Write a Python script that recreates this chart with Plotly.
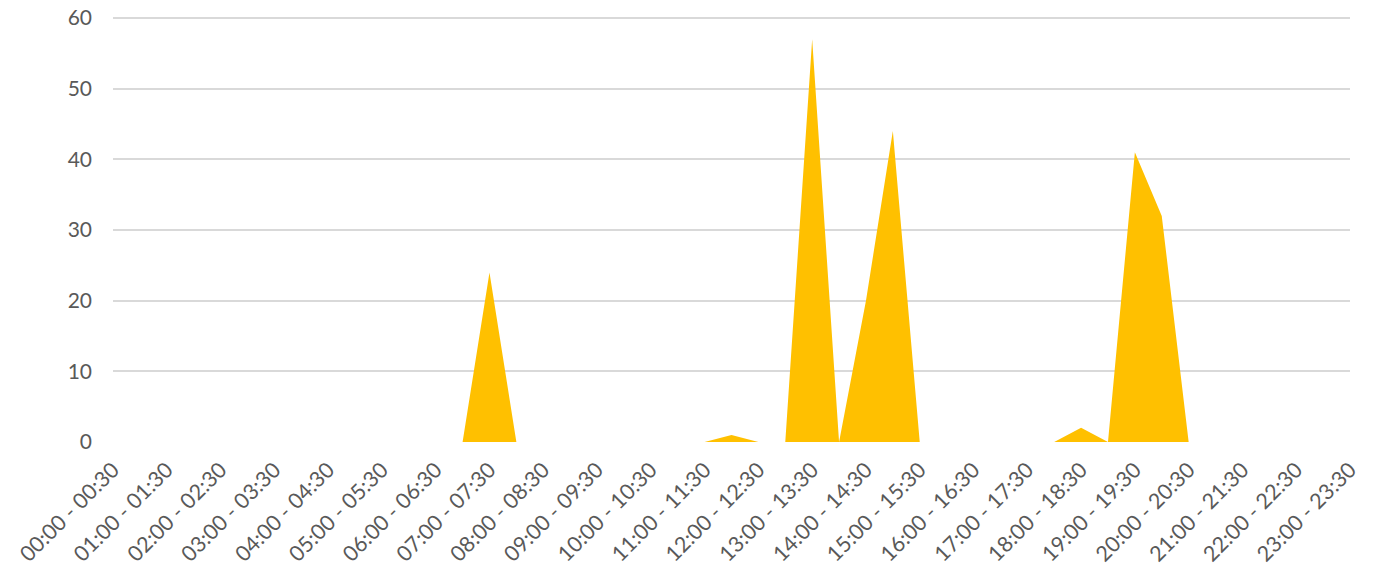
import plotly.graph_objects as go

categories = [
    "00:00 - 00:30", "00:30 - 01:00", "01:00 - 01:30", "01:30 - 02:00",
    "02:00 - 02:30", "02:30 - 03:00", "03:00 - 03:30", "03:30 - 04:00",
    "04:00 - 04:30", "04:30 - 05:00", "05:00 - 05:30", "05:30 - 06:00",
    "06:00 - 06:30", "06:30 - 07:00", "07:00 - 07:30", "07:30 - 08:00",
    "08:00 - 08:30", "08:30 - 09:00", "09:00 - 09:30", "09:30 - 10:00",
    "10:00 - 10:30", "10:30 - 11:00", "11:00 - 11:30", "11:30 - 12:00",
    "12:00 - 12:30", "12:30 - 13:00", "13:00 - 13:30", "13:30 - 14:00",
    "14:00 - 14:30", "14:30 - 15:00", "15:00 - 15:30", "15:30 - 16:00",
    "16:00 - 16:30", "16:30 - 17:00", "17:00 - 17:30", "17:30 - 18:00",
    "18:00 - 18:30", "18:30 - 19:00", "19:00 - 19:30", "19:30 - 20:00",
    "20:00 - 20:30", "20:30 - 21:00", "21:00 - 21:30", "21:30 - 22:00",
    "22:00 - 22:30", "22:30 - 23:00", "23:00 - 23:30",
]

values = [
    0, 0, 0, 0, 0, 0, 0, 0, 0, 0, 0, 0, 0, 0, 24, 0,
    0, 0, 0, 0, 0, 0, 0, 1, 0, 0, 57, 0, 20, 44, 0, 0,
    0, 0, 0, 0, 2, 0, 41, 32, 0, 0, 0, 0, 0, 0, 0,
]

tick_labels = [
    "00:00 - 00:30", "01:00 - 01:30", "02:00 - 02:30", "03:00 - 03:30",
    "04:00 - 04:30", "05:00 - 05:30", "06:00 - 06:30", "07:00 - 07:30",
    "08:00 - 08:30", "09:00 - 09:30", "10:00 - 10:30", "11:00 - 11:30",
    "12:00 - 12:30", "13:00 - 13:30", "14:00 - 14:30", "15:00 - 15:30",
    "16:00 - 16:30", "17:00 - 17:30", "18:00 - 18:30", "19:00 - 19:30",
    "20:00 - 20:30", "21:00 - 21:30", "22:00 - 22:30", "23:00 - 23:30",
]

y_ticks = [0, 10, 20, 30, 40, 50, 60]

fig = go.Figure()
fig.add_trace(go.Scatter(
    x=categories,
    y=values,
    mode="lines",
    line=dict(width=0, color="#FFC000"),
    fill="tozeroy",
    fillcolor="#FFC000",
    showlegend=False,
))

# page body has an 8px default margin, so the figure is sized to fit the window
font_family = "Lato, 'Open Sans', sans-serif"
fig.update_layout(
    width=1366,
    height=559,
    margin=dict(l=105, r=24, t=9, b=125),
    paper_bgcolor="white",
    plot_bgcolor="white",
    font=dict(family=font_family, size=21, color="#595959"),
    xaxis=dict(
        type="category",
        categoryorder="array",
        categoryarray=categories,
        range=[0, len(categories) - 1],
        tickmode="array",
        tickvals=tick_labels,
        ticktext=tick_labels,
        tickangle=-45,
        showgrid=False,
        zeroline=False,
        showline=False,
        ticks="",
        automargin=False,
        ticklabeloverflow="allow",
        ticklabelstandoff=10,
        tickfont=dict(size=21.5, color="#595959"),
    ),
    yaxis=dict(
        range=[0, 60.15],
        tickmode="array",
        tickvals=y_ticks,
        showgrid=True,
        gridcolor="#D9D9D9",
        gridwidth=1.5,
        zeroline=False,
        showline=False,
        ticks="",
        automargin=False,
        ticklabeloverflow="allow",
        ticklabelstandoff=20,
        tickfont=dict(size=21, color="#595959"),
    ),
)

fig.write_html("out.html")
